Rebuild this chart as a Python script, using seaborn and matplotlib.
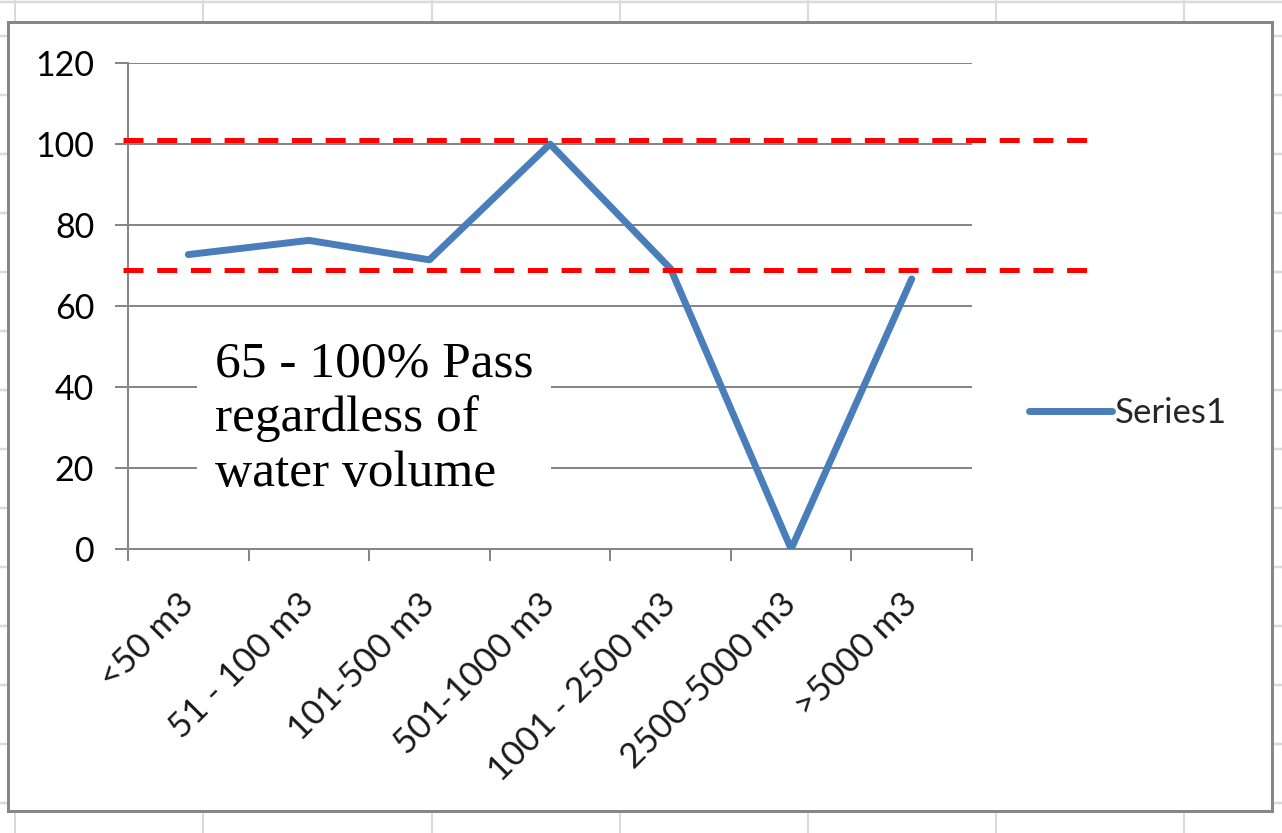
import numpy as np
import pandas as pd
import matplotlib
matplotlib.use("Agg")
import matplotlib.pyplot as plt
import seaborn as sns
from matplotlib.patches import Rectangle
from matplotlib.ticker import FixedLocator

# ---------------- data ----------------
categories = ["<50 m3", "51 - 100 m3", "101-500 m3", "501-1000 m3",
              "1001 - 2500 m3", "2500-5000 m3", ">5000 m3"]
pass_rate = [72.7, 76.2, 71.4, 100, 69.2, 0, 66.7]
series_name = "Series1"
threshold_values = [101, 69]
y_ticks = [0, 20, 40, 60, 80, 100, 120]
annotation = "65 - 100% Pass\nregardless of\nwater volume"

# ---------------- layout ----------------
W, H, DPI = 1282, 833, 100
PT = 0.72  # points per pixel at 100 dpi
GRID = "#868686"
BLUE = "#4a7ebb"

sns.set_theme(style="white")
plt.rcParams['font.family'] = ['Lato', 'DejaVu Sans']

fig = plt.figure(figsize=(W / DPI, H / DPI), dpi=DPI)
fig.patch.set_facecolor("white")

# spreadsheet backdrop + chart area frame (pixel coordinates)
bg = fig.add_axes([0, 0, 1, 1])
bg.set_xlim(0, W)
bg.set_ylim(H, 0)
bg.axis("off")
sheet = "#dadada"
for x in [15, 203, 432, 620, 808, 996, 1184]:
    bg.plot([x, x], [0, H], color=sheet, lw=2 * PT, solid_capstyle="butt", zorder=1)
for y in [1.5] + [36 + 59 * k for k in range(14)]:
    bg.plot([0, W], [y, y], color=sheet, lw=2.5 * PT, solid_capstyle="butt", zorder=1)
bg.add_patch(Rectangle((8, 22), 1264, 789, facecolor="white",
                       edgecolor="#878787", lw=3 * PT, zorder=3))

# main plot area
ax = fig.add_axes([128 / W, 1 - 549 / H, (972 - 128) / W, (549 - 63) / H])
ax.set_facecolor("none")
df = pd.DataFrame({"category": categories, "value": pass_rate})
sns.lineplot(data=df, x="category", y="value", ax=ax, color=BLUE,
             lw=5, label=series_name, sort=False, zorder=4)

ax.set_xlim(-0.5, len(categories) - 0.5)
ax.set_ylim(0, 120)
ax.set_yticks(y_ticks)
ax.set_xlabel("")
ax.set_ylabel("")
ax.set_axisbelow(True)
ax.yaxis.grid(True, color=GRID, lw=2 * PT)
ax.xaxis.grid(False)
for side in ["top", "right"]:
    ax.spines[side].set_visible(False)
for side in ["left", "bottom"]:
    ax.spines[side].set_color(GRID)
    ax.spines[side].set_linewidth(2 * PT)

ax.tick_params(axis="y", which="major", length=13 * PT, width=2 * PT,
               color=GRID, labelsize=24.5, labelcolor="black", pad=15, left=True)
ax.tick_params(axis="x", which="major", length=0, pad=36, labelsize=25,
               labelcolor="#1a1a1a", bottom=True)
ax.xaxis.set_minor_locator(FixedLocator(np.arange(-0.5, len(categories), 1.0)))
ax.tick_params(axis="x", which="minor", length=12 * PT, width=2 * PT,
               color=GRID, bottom=True)
for lbl in ax.get_xticklabels():
    lbl.set_rotation(45)
    lbl.set_ha("right")
    lbl.set_va("center")
    lbl.set_rotation_mode("anchor")

# red dashed reference lines (extend beyond plot area)
for v in threshold_values:
    ax.axhline(v, xmin=(123 - 128) / 844, xmax=(1100 - 128) / 844,
               color="#ff0000", lw=5 * PT, ls=(0, (4.0, 2.74)),
               clip_on=False, zorder=5)

# legend
ax.legend(loc="center left", bbox_to_anchor=(1029 / W, 1 - 413 / H),
          bbox_transform=fig.transFigure, frameon=False, fontsize=25,
          handlelength=2.39, handletextpad=0.08, borderpad=0, borderaxespad=0)

# annotation text box
fig.text(215 / W, 1 - 341 / H, annotation, family=["Liberation Serif"],
         fontsize=37, ha="left", va="top", linespacing=1.22, color="black",
         bbox=dict(boxstyle="square,pad=0.35", facecolor="white",
                   edgecolor="none"), zorder=6)

fig.savefig("out.png", dpi=DPI, facecolor="white")
